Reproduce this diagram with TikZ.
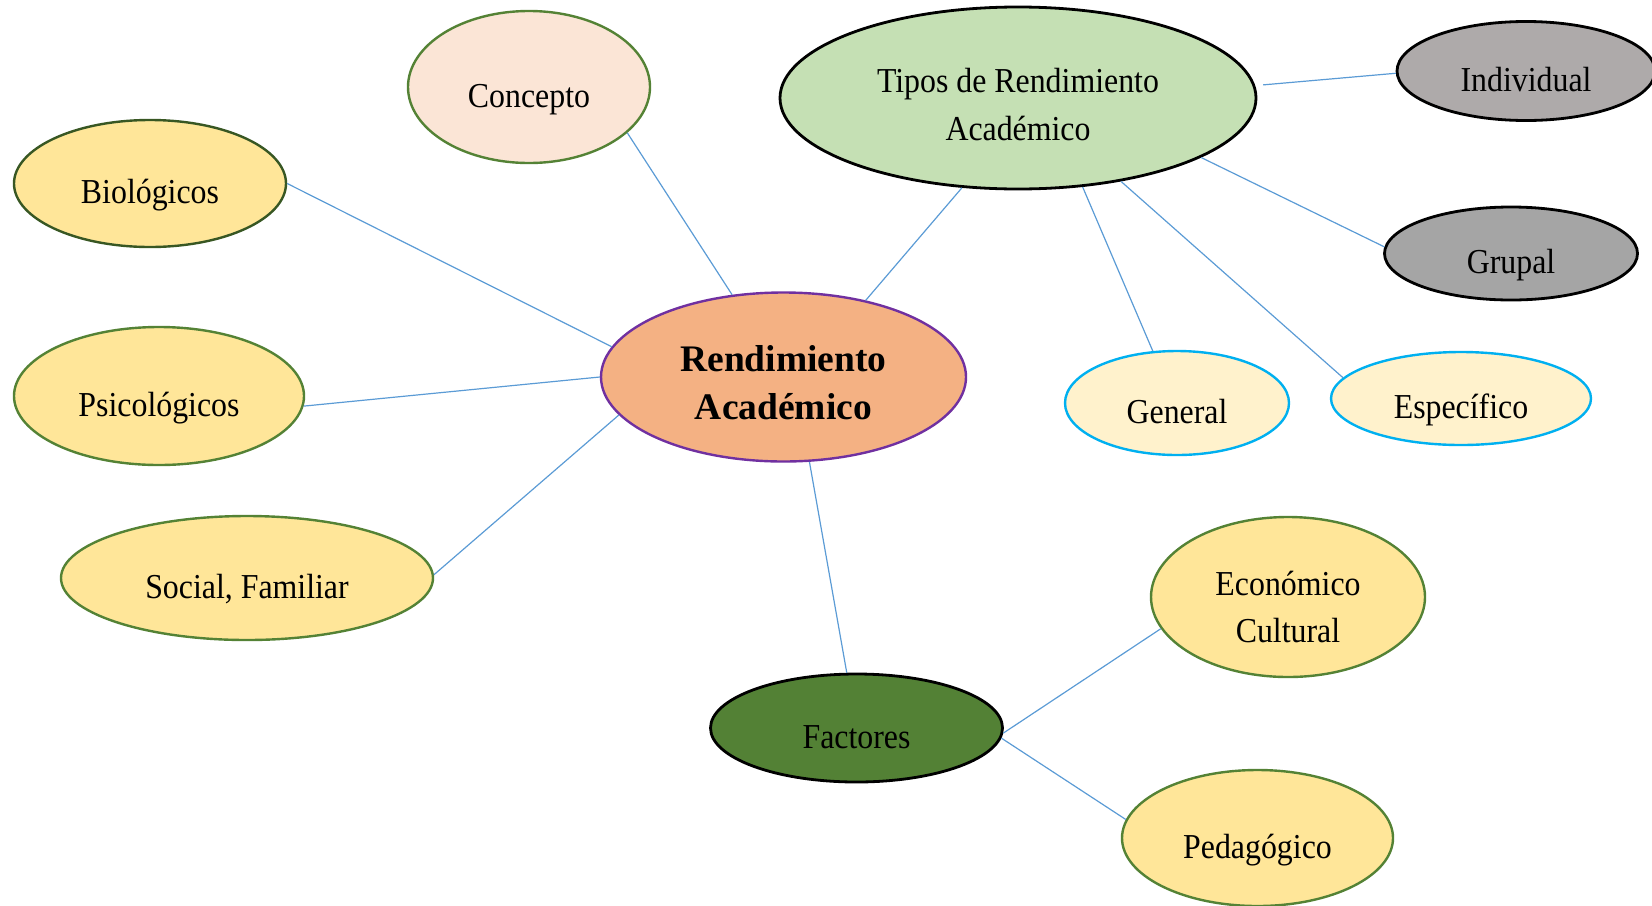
\documentclass[tikz,border=0pt]{standalone}
\usepackage{fontspec}
\setmainfont{Liberation Serif}[FakeStretch=0.91]
\newfontfamily\rendfont{Liberation Serif}
\usetikzlibrary{shapes.geometric}

\definecolor{linkblue}{HTML}{5B9BD5}
\definecolor{leafgreen}{HTML}{548235}
\definecolor{darkleaf}{HTML}{385723}
\definecolor{peach}{HTML}{FBE5D6}
\definecolor{sand}{HTML}{FFE699}
\definecolor{cream}{HTML}{FFF2CC}
\definecolor{skyline}{HTML}{00B0F0}
\definecolor{salmon}{HTML}{F4B183}
\definecolor{violet}{HTML}{7030A0}
\definecolor{sage}{HTML}{C5E0B4}
\definecolor{stone}{HTML}{AEAAAA}
\definecolor{slate}{HTML}{A5A5A5}
\definecolor{moss}{HTML}{538135}

\tikzset{
  bubble/.style={ellipse, draw, line width=1.2pt, inner sep=0pt,
    font=\fontsize{17.5}{23.75}\selectfont},
  darkrim/.style={line width=1.4pt, draw=black},
  oneline/.style={text height=21pt, text depth=1pt},
  dims/.style 2 args={minimum width=#1pt, minimum height=#2pt},
  link/.style={draw=linkblue, line width=0.6pt},
}

\begin{document}
\begin{tikzpicture}[x=0.5pt,y=-0.5pt]

\useasboundingbox (0,0) rectangle (1652,905);

% centro
\node[bubble, dims={182.5}{84.5}, draw=violet, fill=salmon, align=center,
  font=\rendfont\bfseries\fontsize{18.75}{23.85}\selectfont] (rend) at (783.5,377)
  {\rule{0pt}{18.9pt}Rendimiento\\Académico};

% izquierda
\node[bubble, oneline, dims={121}{76}, draw=leafgreen, fill=peach] (concepto) at (529,87) {Concepto};
\node[bubble, oneline, dims={136}{63.5}, draw=darkleaf, fill=sand] (bio) at (150,183.5) {Biológicos};
\node[bubble, oneline, dims={145}{69}, draw=leafgreen, fill=sand] (psico) at (159,396) {Psicológicos};
\node[bubble, oneline, dims={186}{62}, draw=leafgreen, fill=sand] (social) at (247,578) {Social, Familiar};

% tipos
\node[bubble, darkrim, dims={238}{91}, fill=sage, align=center] (tipos) at (1018,98)
  {\rule{0pt}{18.5pt}Tipos de Rendimiento\\Académico};
\node[bubble, darkrim, oneline, dims={129}{49.5}, fill=stone] (indiv) at (1526,71) {Individual};
\node[bubble, darkrim, oneline, dims={126.5}{46.5}, fill=slate] (grupal) at (1511,253.5) {Grupal};
\node[bubble, oneline, dims={112}{52}, draw=skyline, fill=cream] (general) at (1177,403) {General};
\node[bubble, oneline, dims={130}{46.5}, draw=skyline, fill=cream] (espec) at (1461,398.5) {Específico};

% factores
\node[bubble, darkrim, oneline, dims={146}{54}, fill=moss] (fact) at (856.5,728) {Factores};
\node[bubble, dims={137}{80}, draw=leafgreen, fill=sand, align=center] (econ) at (1288,597)
  {\rule{0pt}{22pt}Económico\\Cultural};
\node[bubble, oneline, dims={135.5}{68}, draw=leafgreen, fill=sand] (ped) at (1257.5,838) {Pedagógico};

% enlaces
\draw[link] (concepto.335) -- (rend.122);
\draw[link] (bio.0) -- (rend.170);
\draw[link] (psico.356) -- (rend.180);
\draw[link] (social.1) -- (rend.193);
\draw[link] (tipos.238.5) -- (rend.43);
\draw[link] (rend.287) -- (fact.100);
\draw[link, shorten <=4pt] (tipos.3) -- (indiv.181);
\draw[link] (tipos.342) -- (grupal.177);
\draw[link] (tipos.306) -- (general.115);
\draw[link] (tipos.321.5) -- (espec.170);
\draw[link] (fact.358.5) -- (econ.194);
\draw[link] (fact.356) -- (ped.172);

\end{tikzpicture}
\end{document}
